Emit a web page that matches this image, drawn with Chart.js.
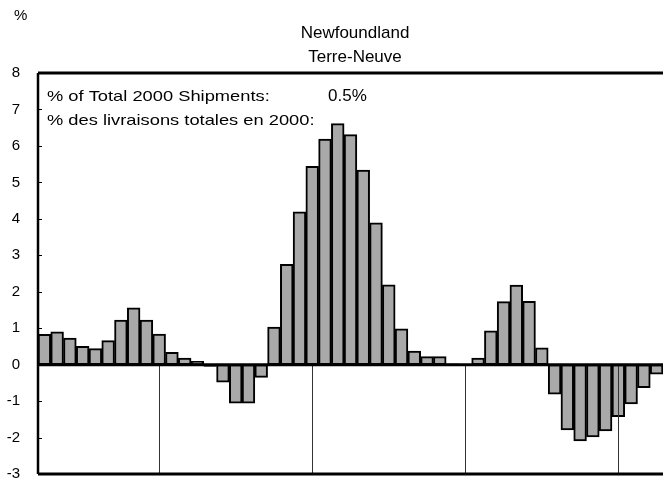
<!DOCTYPE html>
<html><head><meta charset="utf-8">
<script src="https://cdn.jsdelivr.net/npm/chart.js@4.4.1/dist/chart.umd.min.js"></script>
<style>html,body{margin:0;padding:0;background:#fff}#wrap{width:663px;height:478px;position:relative}</style>
</head><body><div id="wrap"><canvas id="c" width="663" height="478"></canvas></div>
<script>
const months = ['Apr 96','May 96','Jun 96','Jul 96','Aug 96','Sep 96','Oct 96','Nov 96','Dec 96',
  'Jan 97','Feb 97','Mar 97','Apr 97','May 97','Jun 97','Jul 97','Aug 97','Sep 97','Oct 97','Nov 97','Dec 97',
  'Jan 98','Feb 98','Mar 98','Apr 98','May 98','Jun 98','Jul 98','Aug 98','Sep 98','Oct 98','Nov 98','Dec 98',
  'Jan 99','Feb 99','Mar 99','Apr 99','May 99','Jun 99','Jul 99','Aug 99','Sep 99','Oct 99','Nov 99','Dec 99',
  'Jan 00','Feb 00','Mar 00','Apr 00'];
const shipmentsChange = [0.83,0.90,0.73,0.50,0.44,0.66,1.22,1.56,1.22,
  0.84,0.34,0.18,0.09,-0.05,-0.48,-1.06,-1.06,-0.35,1.03,2.75,4.19,
  5.44,6.19,6.61,6.31,5.34,3.89,2.19,0.98,0.37,0.22,0.22,0.02,
  -0.03,0.18,0.93,1.73,2.18,1.74,0.46,-0.81,-1.79,-2.09,-1.98,-1.82,
  -1.43,-1.08,-0.63,-0.26];
const yMin = -3, yMax = 8, yStep = 1;
const yearMarks = ['Jan 97','Jan 98','Jan 99','Jan 00'];
const titleLines = ['Newfoundland','Terre-Neuve'];
const unitLabel = '%';
const noteLabels = ['% of Total 2000 Shipments:','% des livraisons totales en 2000:'];
const noteValue = '0.5%';

const FONT = '"Liberation Sans", Arial, Helvetica, sans-serif';

const decor = {
  id: 'decor',
  afterDatasetsDraw(chart) {
    const {ctx, chartArea: a, scales: {x, y}} = chart;
    ctx.save();
    ctx.strokeStyle = '#333';
    ctx.lineWidth = 1;
    const y0 = y.getPixelForValue(0);
    yearMarks.forEach(m => {
      const px = Math.round(x.getPixelForValue(months.indexOf(m))) + 0.5;
      ctx.beginPath(); ctx.moveTo(px, y0); ctx.lineTo(px, a.bottom); ctx.stroke();
    });
    ctx.lineWidth = 1; ctx.strokeStyle = '#000';
    y.ticks.forEach(t => {
      const py = Math.round(y.getPixelForValue(t.value)) + 0.5;
      ctx.beginPath(); ctx.moveTo(a.left, py); ctx.lineTo(a.left + 4, py); ctx.stroke();
    });
    ctx.lineWidth = 3;
    ctx.beginPath(); ctx.moveTo(a.left, y0); ctx.lineTo(a.right, y0); ctx.stroke();
    ctx.beginPath(); ctx.moveTo(a.left, a.top); ctx.lineTo(a.right, a.top); ctx.stroke();
    ctx.beginPath(); ctx.moveTo(a.left, a.bottom); ctx.lineTo(a.right, a.bottom); ctx.stroke();
    ctx.lineWidth = 2.5;
    ctx.beginPath(); ctx.moveTo(a.left, a.top); ctx.lineTo(a.left, a.bottom); ctx.stroke();
    ctx.fillStyle = '#000';
    ctx.textBaseline = 'middle';
    ctx.textAlign = 'left';
    ctx.font = '15px ' + FONT;
    ctx.fillText(unitLabel, 14, 16);
    ctx.textAlign = 'center';
    ctx.font = '17px ' + FONT;
    ctx.fillText(titleLines[0], 355, 33);
    ctx.fillText(titleLines[1], 355, 57);
    ctx.textAlign = 'left';
    ctx.font = '15px ' + FONT;
    [97, 121].forEach((py, i) => {
      ctx.save();
      ctx.translate(47, py);
      ctx.scale(1.22, 1);
      ctx.fillText(noteLabels[i], 0, 0);
      ctx.restore();
    });
    ctx.font = '17px ' + FONT;
    ctx.fillText(noteValue, 328, 96);
    ctx.restore();
  }
};

new Chart(document.getElementById('c'), {
  type: 'bar',
  data: {
    labels: months,
    datasets: [{
      data: shipmentsChange,
      backgroundColor: '#a9a9a9',
      borderColor: '#000',
      borderWidth: 2,
      borderSkipped: false,
      categoryPercentage: 1,
      barPercentage: 1
    }]
  },
  options: {
    responsive: false,
    devicePixelRatio: 1,
    animation: false,
    layout: {padding: {top: 73, bottom: 4, left: 0, right: 0}},
    plugins: {legend: {display: false}, title: {display: false}, tooltip: {enabled: false}},
    scales: {
      x: {display: false, offset: true},
      y: {
        min: yMin, max: yMax,
        afterFit(s) { s.width = 38; s.paddingTop = 0; s.paddingBottom = 0; },
        ticks: {stepSize: yStep, color: '#000', font: {size: 15, family: FONT}, padding: 18},
        grid: {display: false, drawTicks: false},
        border: {display: false}
      }
    }
  },
  plugins: [decor]
});
</script>
</body></html>
